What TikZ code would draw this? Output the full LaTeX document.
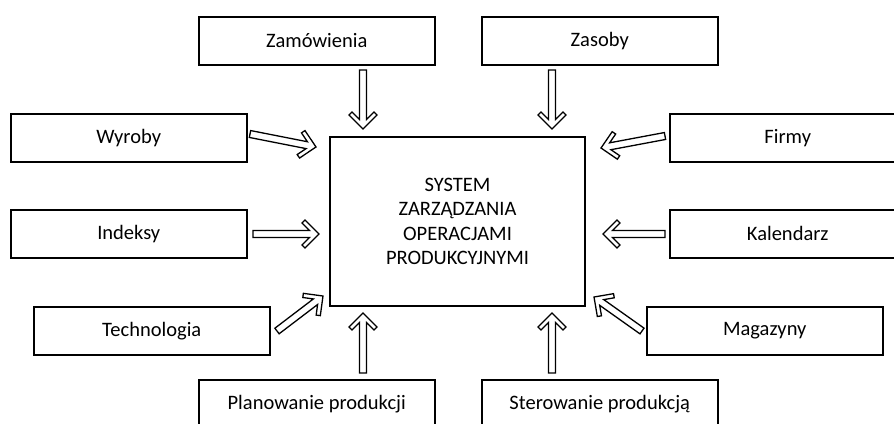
\documentclass[tikz,border=0pt]{standalone}
\usepackage{fontspec}
\setmainfont{Carlito}
\usetikzlibrary{calc}
\tikzset{
  box/.style={draw, line width=1.5pt, minimum width=236pt, minimum height=48pt, inner sep=0pt,
    font=\fontsize{20.5}{24}\selectfont, anchor=north west},
  mainbox/.style={draw, line width=1.5pt, minimum width=255pt, minimum height=169pt, inner sep=0pt,
    align=center, font=\fontsize{20.5}{24.5}\selectfont},
  arr/.style={draw, line width=1.3pt, line join=miter, fill=white}
}
\newcommand\hollowarrow[2]{%
  \path let \p1=($(#2)-(#1)$), \n1={atan2(\y1,\x1)}, \n2={veclen(\x1,\y1)} in
    \pgfextra{\xdef\ArAng{\n1}\xdef\ArLen{\n2}};
  \begin{scope}[shift={(#1)}, rotate=\ArAng]
    \pgfmathsetmacro\La{\ArLen-4.2*1.4142-3.5}
    \pgfmathsetmacro\Qx{\ArLen-14-4.2*0.7071}
    \pgfmathsetmacro\Qy{14-4.2*0.7071}
    \pgfmathsetmacro\Px{\ArLen-14}
    \draw[arr] (0,3.5) -- (\La,3.5) -- (\Qx,\Qy) -- (\Px,14) -- (\ArLen,0)
      -- (\Px,-14) -- (\Qx,-\Qy) -- (\La,-3.5) -- (0,-3.5) -- cycle;
  \end{scope}}
\begin{document}
\begin{tikzpicture}[x=1pt, y=-1pt]
  \clip (0,0) rectangle (894,423);
  \fill[white] (0,0) rectangle (894,423);
  % main
  \node[mainbox] (main) at (457.5,221.5) {SYSTEM\\ZARZĄDZANIA\\OPERACJAMI\\PRODUKCYJNYMI};
  % boxes
  \node[box] (zam) at (198,16) {Zamówienia};
  \node[box] (zas) at (481,16) {Zasoby};
  \node[box] (wyr) at (10,113) {Wyroby};
  \node[box] (fir) at (669,113) {Firmy};
  \node[box] (ind) at (10,209) {Indeksy};
  \node[box] (kal) at (669,209) {Kalendarz};
  \node[box] (tech) at (33,306) {Technologia};
  \node[box] (mag) at (646,306) {Magazyny};
  \node[box] (plan) at (198,379) {Planowanie produkcji};
  \node[box] (ster) at (481,379) {Sterowanie produkcją};
  % arrow end points
  \coordinate (a1s) at (363,70);  \coordinate (a1e) at (363,129);
  \coordinate (a2s) at (552,70);  \coordinate (a2e) at (552,129);
  \coordinate (a3s) at (250,134); \coordinate (a3e) at (316,147);
  \coordinate (a4s) at (665,136); \coordinate (a4e) at (601,148);
  \coordinate (a5s) at (253,234); \coordinate (a5e) at (319,234);
  \coordinate (a6s) at (665,234); \coordinate (a6e) at (603,234);
  \coordinate (a7s) at (277,331); \coordinate (a7e) at (323,296);
  \coordinate (a8s) at (642,331); \coordinate (a8e) at (594,297);
  \coordinate (a9s) at (363,373); \coordinate (a9e) at (363,313);
  \coordinate (a10s) at (552,373); \coordinate (a10e) at (552,313);
  \hollowarrow{a1s}{a1e}
  \hollowarrow{a2s}{a2e}
  \hollowarrow{a3s}{a3e}
  \hollowarrow{a4s}{a4e}
  \hollowarrow{a5s}{a5e}
  \hollowarrow{a6s}{a6e}
  \hollowarrow{a7s}{a7e}
  \hollowarrow{a8s}{a8e}
  \hollowarrow{a9s}{a9e}
  \hollowarrow{a10s}{a10e}
\end{tikzpicture}
\end{document}
